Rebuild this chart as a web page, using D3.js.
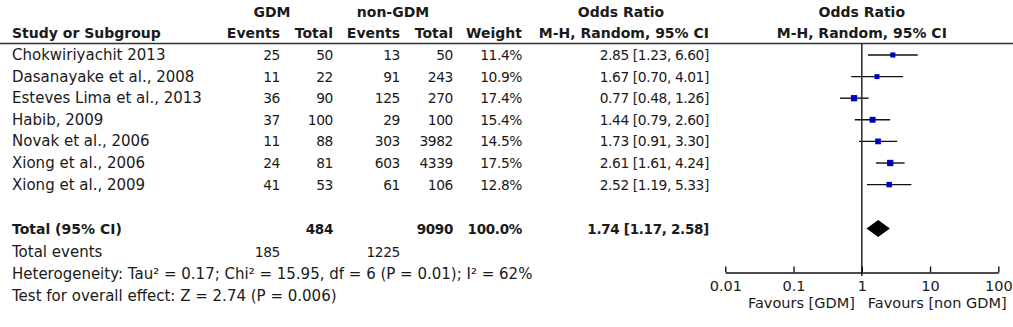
<!DOCTYPE html>
<html>
<head>
<meta charset="utf-8">
<script src="https://cdn.jsdelivr.net/npm/d3@7"></script>
<style>
  body { margin: 0; background: #fff; }
  svg text { font-family: "DejaVu Sans", sans-serif; font-size: 15px; fill: #1a1a1a; }
  svg text.n { font-size: 13.8px; letter-spacing: -0.4px; }
  svg text.b { font-weight: bold; font-size: 14px; }
  svg text.bn { font-weight: bold; font-size: 13.5px; letter-spacing: -0.3px; }
  svg .axis text { font-size: 14.5px; }
  svg text.fav { font-size: 14.5px; }
</style>
</head>
<body>
<svg id="chart" width="1013" height="327"></svg>
<script>
// Study-level data
const studies    = ["Chokwiriyachit 2013", "Dasanayake et al., 2008", "Esteves Lima et al., 2013",
                    "Habib, 2009", "Novak et al., 2006", "Xiong et al., 2006", "Xiong et al., 2009"];
const gdmEvents  = [25, 11, 36, 37, 11, 24, 41];
const gdmTotals  = [50, 22, 90, 100, 88, 81, 53];
const nonEvents  = [13, 91, 125, 29, 303, 603, 61];
const nonTotals  = [50, 243, 270, 100, 3982, 4339, 106];
const weights    = [11.4, 10.9, 17.4, 15.4, 14.5, 17.5, 12.8];
const oddsRatios = [2.85, 1.67, 0.77, 1.44, 1.73, 2.61, 2.52];
const ciLower    = [1.23, 0.70, 0.48, 0.79, 0.91, 1.61, 1.19];
const ciUpper    = [6.60, 4.01, 1.26, 2.60, 3.30, 4.24, 5.33];

// Pooled (random effects) result
const pooledOR = 1.74, pooledLower = 1.17, pooledUpper = 2.58;
const totalGdm = 484, totalNon = 9090, totalWeight = 100.0;
const totalEventsGdm = 185, totalEventsNon = 1225;

// Axis ticks
const axisTicks = [0.01, 0.1, 1, 10, 100];
const axisTickLabels = ["0.01", "0.1", "1", "10", "100"];

const svg = d3.select("#chart");
const f2 = d3.format(".2f"), f1 = d3.format(".1f");

// Scales
const x = d3.scaleLog().domain([0.01, 100]).range([725.3, 998.3]);
const row = d3.scalePoint().domain(studies).range([60, 189.6]);
const side = d3.scaleSqrt().domain([0, 17.5]).range([0, 6.3]);

// Column right edges for the table
const col = { gdmEv: 280, gdmTot: 333, nonEv: 400, nonTot: 453, weight: 522, or: 709 };
const left = 12;

// Header
const head = svg.append("g");
head.append("text").attr("class", "b").attr("x", 272).attr("y", 17).attr("text-anchor", "middle").text("GDM");
head.append("text").attr("class", "b").attr("x", 393).attr("y", 17).attr("text-anchor", "middle").text("non-GDM");
head.append("text").attr("class", "b").attr("x", 621).attr("y", 17).attr("text-anchor", "middle").text("Odds Ratio");
head.append("text").attr("class", "b").attr("x", x(1)).attr("y", 17).attr("text-anchor", "middle").text("Odds Ratio");
head.append("text").attr("class", "b").attr("x", left).attr("y", 38).text("Study or Subgroup");
[["Events", col.gdmEv], ["Total", col.gdmTot], ["Events", col.nonEv], ["Total", col.nonTot],
 ["Weight", col.weight], ["M-H, Random, 95% CI", col.or]].forEach(([t, cx]) => {
  head.append("text").attr("class", "b").attr("x", cx).attr("y", 38).attr("text-anchor", "end").text(t);
});
head.append("text").attr("class", "b").attr("x", x(1)).attr("y", 38).attr("text-anchor", "middle").text("M-H, Random, 95% CI");
svg.append("line").attr("x1", 0).attr("x2", 1013).attr("y1", 43.5).attr("y2", 43.5)
  .attr("stroke", "#333").attr("stroke-width", 1.5);

// Study rows
const rows = svg.append("g").selectAll("g").data(studies).join("g")
  .attr("transform", d => `translate(0,${row(d)})`);
rows.append("text").attr("x", left).text(d => d);
const cells = [
  [gdmEvents, col.gdmEv, v => v], [gdmTotals, col.gdmTot, v => v],
  [nonEvents, col.nonEv, v => v], [nonTotals, col.nonTot, v => v],
  [weights, col.weight, v => f1(v) + "%"]
];
cells.forEach(([arr, cx, fmt]) => {
  rows.append("text").attr("class", "n").attr("x", cx).attr("text-anchor", "end").text((d, i) => fmt(arr[i]));
});
rows.append("text").attr("class", "n").attr("x", col.or).attr("text-anchor", "end")
  .text((d, i) => `${f2(oddsRatios[i])} [${f2(ciLower[i])}, ${f2(ciUpper[i])}]`);

// Null line at OR = 1
svg.append("line").attr("x1", x(1)).attr("x2", x(1)).attr("y1", 43.5).attr("y2", 276)
  .attr("stroke", "#333").attr("stroke-width", 1.6);

// Confidence intervals and weighted squares
rows.append("line").attr("x1", (d, i) => x(ciLower[i])).attr("x2", (d, i) => x(ciUpper[i]))
  .attr("y1", -5).attr("y2", -5).attr("stroke", "#111").attr("stroke-width", 1.4);
rows.append("rect")
  .attr("x", (d, i) => x(oddsRatios[i]) - side(weights[i]) / 2)
  .attr("y", (d, i) => -5 - side(weights[i]) / 2)
  .attr("width", (d, i) => side(weights[i]))
  .attr("height", (d, i) => side(weights[i]))
  .attr("fill", "#0000c0");

// Total row
const yTot = 234;
svg.append("text").attr("class", "b").attr("x", left).attr("y", yTot).text("Total (95% CI)");
svg.append("text").attr("class", "bn").attr("x", col.gdmTot).attr("y", yTot).attr("text-anchor", "end").text(totalGdm);
svg.append("text").attr("class", "bn").attr("x", col.nonTot).attr("y", yTot).attr("text-anchor", "end").text(totalNon);
svg.append("text").attr("class", "bn").attr("x", col.weight).attr("y", yTot).attr("text-anchor", "end").text(f1(totalWeight) + "%");
svg.append("text").attr("class", "bn").attr("x", col.or).attr("y", yTot).attr("text-anchor", "end")
  .text(`${f2(pooledOR)} [${f2(pooledLower)}, ${f2(pooledUpper)}]`);
const yc = yTot - 5.5, h = 8.5;
svg.append("path")
  .attr("d", `M${x(pooledLower)},${yc}L${x(pooledOR)},${yc - h}L${x(pooledUpper)},${yc}L${x(pooledOR)},${yc + h}Z`)
  .attr("fill", "#000");

// Footer statistics
svg.append("text").attr("x", left).attr("y", 257).text("Total events");
svg.append("text").attr("class", "n").attr("x", col.gdmEv).attr("y", 257).attr("text-anchor", "end").text(totalEventsGdm);
svg.append("text").attr("class", "n").attr("x", col.nonEv).attr("y", 257).attr("text-anchor", "end").text(totalEventsNon);
svg.append("text").attr("x", left).attr("y", 279)
  .text("Heterogeneity: Tau² = 0.17; Chi² = 15.95, df = 6 (P = 0.01); I² = 62%");
svg.append("text").attr("x", left).attr("y", 301)
  .text("Test for overall effect: Z = 2.74 (P = 0.006)");

// Log axis
const axis = d3.axisBottom(x).tickValues(axisTicks)
  .tickFormat((d, i) => axisTickLabels[i])
  .tickSizeInner(-6).tickSizeOuter(0).tickPadding(8);
const ga = svg.append("g").attr("class", "axis").attr("transform", "translate(0,272.5)").call(axis);
ga.attr("font-family", null).attr("font-size", null);
ga.selectAll("path, line").attr("stroke", "#111").attr("stroke-width", 1.4);
ga.selectAll("text").attr("fill", "#1a1a1a");

svg.append("text").attr("class", "fav").attr("x", x(1) - 7).attr("y", 308).attr("text-anchor", "end").text("Favours [GDM]");
svg.append("text").attr("class", "fav").attr("x", x(1) + 6).attr("y", 308).text("Favours [non GDM]");
</script>
</body>
</html>
